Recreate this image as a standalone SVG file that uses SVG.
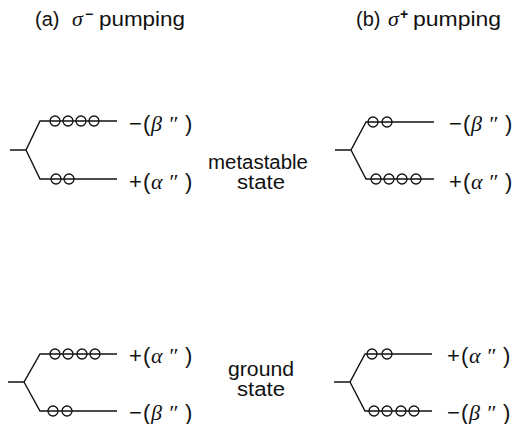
<svg xmlns="http://www.w3.org/2000/svg" width="519" height="424" viewBox="0 0 519 424">
<defs>
<style>
.ln{stroke:#111;stroke-width:1.4;fill:none}
.ci{stroke:#111;stroke-width:1.3;fill:none}
.t{font-family:"Liberation Sans",Arial,sans-serif;font-size:20px;fill:#111}
.l{font-family:"Liberation Sans",Arial,sans-serif;font-size:22px;fill:#111}
.m{font-family:"Liberation Sans",Arial,sans-serif;font-size:20px;fill:#111}
.g{font-family:"Liberation Serif","Times New Roman",serif;font-style:italic;font-size:22px;fill:#111}
.sup{font-family:"Liberation Sans",Arial,sans-serif;font-size:14px;font-weight:bold;fill:#111}
</style>
</defs>
<rect width="519" height="424" fill="#fff"/>

<g id="title-a">
<text class="t" x="35" y="26">(a)</text>
<text class="g" x="72" y="26">σ</text>
<text class="sup" x="85" y="19">−</text>
<text class="t" x="99" y="26" textLength="86" lengthAdjust="spacingAndGlyphs">pumping</text>
</g>
<g id="title-b">
<text class="t" x="356" y="26">(b)</text>
<text class="g" x="388" y="26">σ</text>
<text class="sup" x="400" y="19">+</text>
<text class="t" x="413" y="26" textLength="88" lengthAdjust="spacingAndGlyphs">pumping</text>
</g>

<g id="connectors">
<path class="ln" d="M10 150H26L40 121H117M26 150L40 179H117"/>
<path class="ln" d="M335 150H351L366 122H434M351 150L366 179H434"/>
<path class="ln" d="M8 382H24L40 354H117M24 382L40 411H117"/>
<path class="ln" d="M334 382H350L365 354H432M350 382L365 411H432"/>
</g>

<g id="meta-a-upper">
<circle class="ci" cx="55" cy="121" r="5"/><circle class="ci" cx="68" cy="121" r="5"/><circle class="ci" cx="81" cy="121" r="5"/><circle class="ci" cx="94" cy="121" r="5"/>
<text y="131"><tspan class="l" x="129">−</tspan><tspan class="l" x="143">(</tspan><tspan class="g" x="151">β</tspan><tspan class="g" x="168">″</tspan><tspan class="l" x="185">)</tspan></text>
</g>
<g id="meta-a-lower">
<circle class="ci" cx="56" cy="179" r="5"/><circle class="ci" cx="69" cy="179" r="5"/>
<text y="189"><tspan class="l" x="129">+</tspan><tspan class="l" x="143">(</tspan><tspan class="g" x="151">α</tspan><tspan class="g" x="168">″</tspan><tspan class="l" x="185">)</tspan></text>
</g>

<g id="meta-b-upper">
<circle class="ci" cx="373" cy="122" r="5"/><circle class="ci" cx="387" cy="122" r="5"/>
<text y="131"><tspan class="l" x="449">−</tspan><tspan class="l" x="463">(</tspan><tspan class="g" x="471">β</tspan><tspan class="g" x="488">″</tspan><tspan class="l" x="505">)</tspan></text>
</g>
<g id="meta-b-lower">
<circle class="ci" cx="376" cy="179" r="5"/><circle class="ci" cx="389" cy="179" r="5"/><circle class="ci" cx="402" cy="179" r="5"/><circle class="ci" cx="416" cy="179" r="5"/>
<text y="189"><tspan class="l" x="449">+</tspan><tspan class="l" x="463">(</tspan><tspan class="g" x="471">α</tspan><tspan class="g" x="488">″</tspan><tspan class="l" x="505">)</tspan></text>
</g>

<g id="metastable-label">
<text class="m" x="258" y="169" text-anchor="middle" textLength="100" lengthAdjust="spacingAndGlyphs">metastable</text>
<text class="m" x="261" y="189" text-anchor="middle" textLength="48" lengthAdjust="spacingAndGlyphs">state</text>
</g>

<g id="ground-a-upper">
<circle class="ci" cx="55" cy="354" r="5"/><circle class="ci" cx="68" cy="354" r="5"/><circle class="ci" cx="82" cy="354" r="5"/><circle class="ci" cx="95" cy="354" r="5"/>
<text y="363"><tspan class="l" x="129">+</tspan><tspan class="l" x="143">(</tspan><tspan class="g" x="151">α</tspan><tspan class="g" x="168">″</tspan><tspan class="l" x="185">)</tspan></text>
</g>
<g id="ground-a-lower">
<circle class="ci" cx="53" cy="411" r="5"/><circle class="ci" cx="67" cy="411" r="5"/>
<text y="420"><tspan class="l" x="129">−</tspan><tspan class="l" x="143">(</tspan><tspan class="g" x="151">β</tspan><tspan class="g" x="168">″</tspan><tspan class="l" x="185">)</tspan></text>
</g>

<g id="ground-b-upper">
<circle class="ci" cx="372" cy="354" r="5"/><circle class="ci" cx="387" cy="354" r="5"/>
<text y="363"><tspan class="l" x="447">+</tspan><tspan class="l" x="461">(</tspan><tspan class="g" x="469">α</tspan><tspan class="g" x="486">″</tspan><tspan class="l" x="503">)</tspan></text>
</g>
<g id="ground-b-lower">
<circle class="ci" cx="374" cy="411" r="5"/><circle class="ci" cx="387" cy="411" r="5"/><circle class="ci" cx="401" cy="411" r="5"/><circle class="ci" cx="414" cy="411" r="5"/>
<text y="420"><tspan class="l" x="447">−</tspan><tspan class="l" x="461">(</tspan><tspan class="g" x="469">β</tspan><tspan class="g" x="486">″</tspan><tspan class="l" x="503">)</tspan></text>
</g>

<g id="ground-label">
<text class="m" x="261" y="376" text-anchor="middle" textLength="66" lengthAdjust="spacingAndGlyphs">ground</text>
<text class="m" x="261" y="396" text-anchor="middle" textLength="48" lengthAdjust="spacingAndGlyphs">state</text>
</g>
</svg>
